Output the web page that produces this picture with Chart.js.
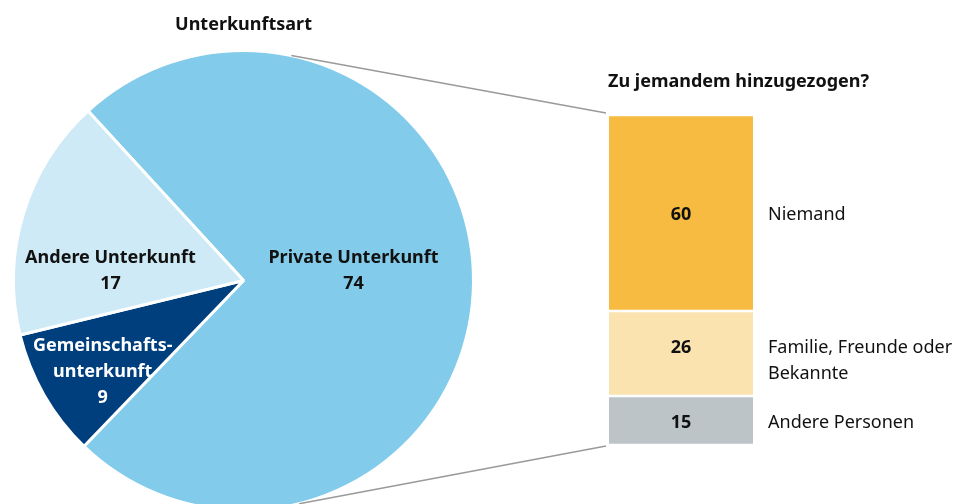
<!DOCTYPE html>
<html>
<head>
<meta charset="utf-8">
<script src="https://cdn.jsdelivr.net/npm/chart.js@4"></script>
<style>
  html, body { margin: 0; padding: 0; background: #fff; width: 960px; height: 504px; overflow: hidden; }
  canvas { position: absolute; left: 0; top: 0; }
</style>
</head>
<body>
<canvas id="pie" width="960" height="520"></canvas>
<canvas id="bar" width="960" height="507"></canvas>
<script>
const pieTitle = 'Unterkunftsart';
const pieLabels = [['Private Unterkunft'], ['Gemeinschafts-', 'unterkunft'], ['Andere Unterkunft']];
const pieValues = [74, 9, 17];
const pieColors = ['#82cbea', '#003f7d', '#cdeaf6'];
const pieTextColors = ['#111', '#fff', '#111'];

const barTitle = 'Zu jemandem hinzugezogen?';
const barLabels = [['Niemand'], ['Familie, Freunde oder', 'Bekannte'], ['Andere Personen']];
const barValues = [60, 26, 15];
const barColors = ['#f6bb40', '#fbe3b0', '#bdc4c8'];

const FONT = "'Noto Sans', sans-serif";

// label spots inside the pie: angle (deg, clockwise from top) and radius fraction
const pieLabelSpots = [{a: 85, r: 0.48}, {a: 237, r: 0.73}, {a: 274, r: 0.58}];

const pieText = {
    id: 'pieText',
    afterDraw(chart) {
        const ctx = chart.ctx;
        const arcs = chart.getDatasetMeta(0).data;
        const cx = arcs[0].x, cy = arcs[0].y, R = arcs[0].outerRadius;
        ctx.save();
        ctx.textAlign = 'center';
        ctx.textBaseline = 'middle';
        ctx.font = 'bold 18px ' + FONT;
        ctx.fillStyle = '#111';
        ctx.fillText(pieTitle, cx, 25);
        pieLabels.forEach((lines, i) => {
            const s = pieLabelSpots[i];
            const a = s.a * Math.PI / 180;
            const x = cx + s.r * R * Math.sin(a);
            const y = cy - s.r * R * Math.cos(a);
            const all = lines.concat([String(pieValues[i])]);
            const lh = 26;
            const y0 = y - (all.length - 1) * lh / 2;
            ctx.fillStyle = pieTextColors[i];
            all.forEach((t, k) => ctx.fillText(t, x, y0 + k * lh));
        });
        ctx.restore();
    }
};

const pieChart = new Chart(document.getElementById('pie'), {
    type: 'pie',
    data: {
        labels: pieLabels.map(l => l.join(' ')),
        datasets: [{
            data: pieValues,
            backgroundColor: pieColors,
            borderColor: '#fff',
            borderWidth: 3
        }]
    },
    options: {
        responsive: false,
        animation: false,
        devicePixelRatio: 1,
        rotation: -42.5,
        layout: { padding: { left: 12, top: 49, right: 485, bottom: 8 } },
        plugins: { legend: { display: false }, tooltip: { enabled: false } }
    },
    plugins: [pieText]
});

const barText = {
    id: 'barText',
    afterDraw(chart) {
        const ctx = chart.ctx;
        const area = chart.chartArea;
        const yScale = chart.scales.y;
        ctx.save();

        // connector lines to the pie
        const arc = pieChart.getDatasetMeta(0).data[0];
        const R = arc.outerRadius;
        const pt = deg => {
            const a = deg * Math.PI / 180;
            return [arc.x + R * Math.sin(a), arc.y - R * Math.cos(a)];
        };
        const top = pt(12), bot = pt(166);
        ctx.strokeStyle = '#9a9a9a';
        ctx.lineWidth = 1.5;
        ctx.beginPath();
        ctx.moveTo(top[0], top[1]);
        ctx.lineTo(area.left - 3, area.top - 2);
        ctx.moveTo(bot[0], bot[1]);
        ctx.lineTo(area.left - 3, area.bottom + 1);
        ctx.stroke();

        ctx.fillStyle = '#111';
        ctx.textBaseline = 'middle';
        ctx.textAlign = 'left';
        ctx.font = 'bold 18px ' + FONT;
        ctx.fillText(barTitle, area.left - 1, 82);

        let cum = 0;
        barValues.forEach((v, i) => {
            const yTop = yScale.getPixelForValue(yScale.max - cum);
            const yBot = yScale.getPixelForValue(yScale.max - cum - v);
            cum += v;
            const mid = (yTop + yBot) / 2 + 2;
            const lines = barLabels[i];
            const lh = 26;
            const y0 = mid - (lines.length - 1) * lh * 0.31;
            ctx.font = 'bold 18px ' + FONT;
            ctx.textAlign = 'center';
            ctx.fillText(String(v), (area.left + area.right) / 2, y0);
            ctx.font = '18px ' + FONT;
            ctx.textAlign = 'left';
            lines.forEach((t, k) => ctx.fillText(t, area.right + 15, y0 + k * lh));
        });
        ctx.restore();
    }
};

const barTotal = barValues.reduce((a, b) => a + b, 0);

new Chart(document.getElementById('bar'), {
    type: 'bar',
    data: {
        labels: [''],
        datasets: barValues.map((v, i) => ({
            label: barLabels[i].join(' '),
            data: [v],
            backgroundColor: barColors[i],
            borderColor: '#fff',
            borderWidth: { top: 1.5, bottom: 1.5, left: 0, right: 0 },
            borderSkipped: false,
            barPercentage: 1,
            categoryPercentage: 1
        })).reverse()
    },
    options: {
        responsive: false,
        animation: false,
        devicePixelRatio: 1,
        layout: { padding: { left: 609, right: 207, top: 115, bottom: 62 } },
        scales: {
            x: { display: false, stacked: true },
            y: { display: false, stacked: true, min: 0, max: barTotal }
        },
        plugins: { legend: { display: false }, tooltip: { enabled: false } }
    },
    plugins: [barText]
});
</script>
</body>
</html>
